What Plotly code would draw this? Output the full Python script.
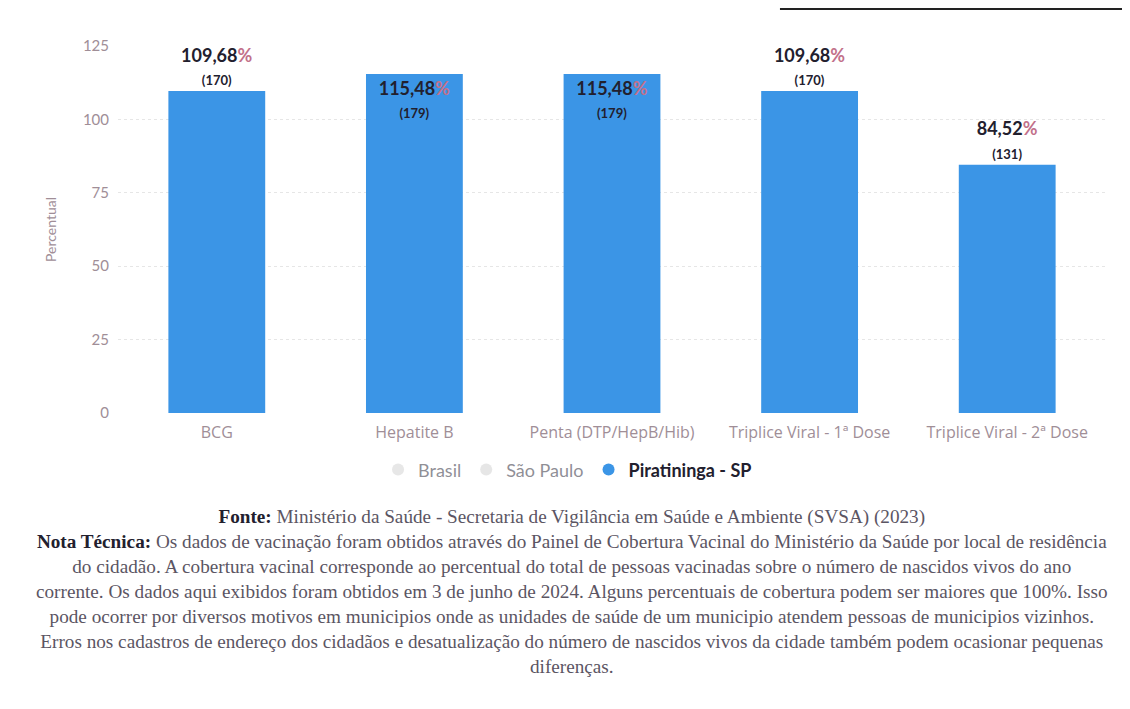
import plotly.graph_objects as go

categories = ["BCG", "Hepatite B", "Penta (DTP/HepB/Hib)",
              "Triplice Viral - 1ª Dose", "Triplice Viral - 2ª Dose"]
coverage = [109.68, 115.48, 115.48, 109.68, 84.52]
vaccinated = [170, 179, 179, 170, 131]
text_positions = ["outside", "inside", "inside", "outside", "outside"]
y_ticks = [0, 25, 50, 75, 100, 125]

series_visible = "Piratininga - SP"
series_hidden = ["Brasil", "São Paulo"]

BAR = "#3b95e6"
TICK = "#a08e97"
DARK = "#22202e"
PCT = "#c2708a"
BODY = "#5b5563"

fig = go.Figure()

for name in series_hidden:
    fig.add_trace(go.Scatter(
        x=categories, y=[None] * len(categories), name=name,
        mode="markers", visible="legendonly",
        marker=dict(symbol="circle", size=14, color="#cfcfcf"),
    ))

fig.add_trace(go.Bar(
    x=categories, y=coverage, customdata=vaccinated,
    name=series_visible, showlegend=False,
    marker=dict(color=BAR, line=dict(width=0)),
    texttemplate="<b>%{y:.2f}<span style='color:" + PCT + "'>%</span></b><br>"
                 "<span style='font-size:13px'><b>(%{customdata})</b></span>",
    textposition=text_positions,
    insidetextanchor="end",
    textfont=dict(family="Lato, sans-serif", size=18, color=DARK),
    cliponaxis=False,
))

fig.add_trace(go.Scatter(
    x=[categories[0]], y=[None], name="<b>" + series_visible + "</b>",
    mode="markers", marker=dict(symbol="circle", size=17, color=BAR),
))

footer = (
    "<b style='color:" + DARK + "'>Fonte:</b> Ministério da Saúde - Secretaria de Vigilância em Saúde e Ambiente (SVSA) (2023)<br>"
    "<b style='color:" + DARK + "'>Nota Técnica:</b> Os dados de vacinação foram obtidos através do Painel de Cobertura Vacinal do Ministério da Saúde por local de residência<br>"
    "do cidadão. A cobertura vacinal corresponde ao percentual do total de pessoas vacinadas sobre o número de nascidos vivos do ano<br>"
    "corrente. Os dados aqui exibidos foram obtidos em 3 de junho de 2024. Alguns percentuais de cobertura podem ser maiores que 100%. Isso<br>"
    "pode ocorrer por diversos motivos em municipios onde as unidades de saúde de um municipio atendem pessoas de municipios vizinhos.<br>"
    "Erros nos cadastros de endereço dos cidadãos e desatualização do número de nascidos vivos da cidade também podem ocasionar pequenas<br>"
    "diferenças."
)

fig.add_annotation(
    xref="paper", yref="paper", x=0.4595, y=-0.249,
    xanchor="center", yanchor="top", showarrow=False, align="center",
    text=footer,
    font=dict(family="Liberation Serif, serif", size=19.2, color=BODY),
)

fig.add_shape(type="line", xref="paper", yref="paper",
              x0=0.67, x1=1.04, y0=1.1008, y1=1.1008,
              line=dict(color="#222222", width=2))

fig.update_layout(
    width=1130, height=709,
    margin=dict(l=110, r=32, t=38, b=304),
    paper_bgcolor="white", plot_bgcolor="white",
    separators=",.",
    bargap=0.51,
    font=dict(family="Lato, sans-serif", color=TICK),
    showlegend=True,
    legend=dict(orientation="h", x=0.455, xanchor="center", y=-0.155, yanchor="middle",
                font=dict(family="Lato, sans-serif", size=18, color=DARK),
                itemsizing="constant", itemwidth=30),
    xaxis=dict(showgrid=False, showline=False, zeroline=False,
               tickfont=dict(family="Open Sans, sans-serif", size=16, color=TICK), ticks="",
               ticklabelstandoff=8, range=[-0.5, 4.5]),
    yaxis=dict(range=[0, 125], tickvals=y_ticks,
               showgrid=True, gridcolor="#e6e6e6", griddash="dot", gridwidth=1,
               zeroline=False, showline=False,
               tickfont=dict(size=15, color=TICK), ticklabelstandoff=8,
               title=dict(text="Percentual", font=dict(size=14, color=TICK), standoff=22)),
)

fig.write_html("out.html")
